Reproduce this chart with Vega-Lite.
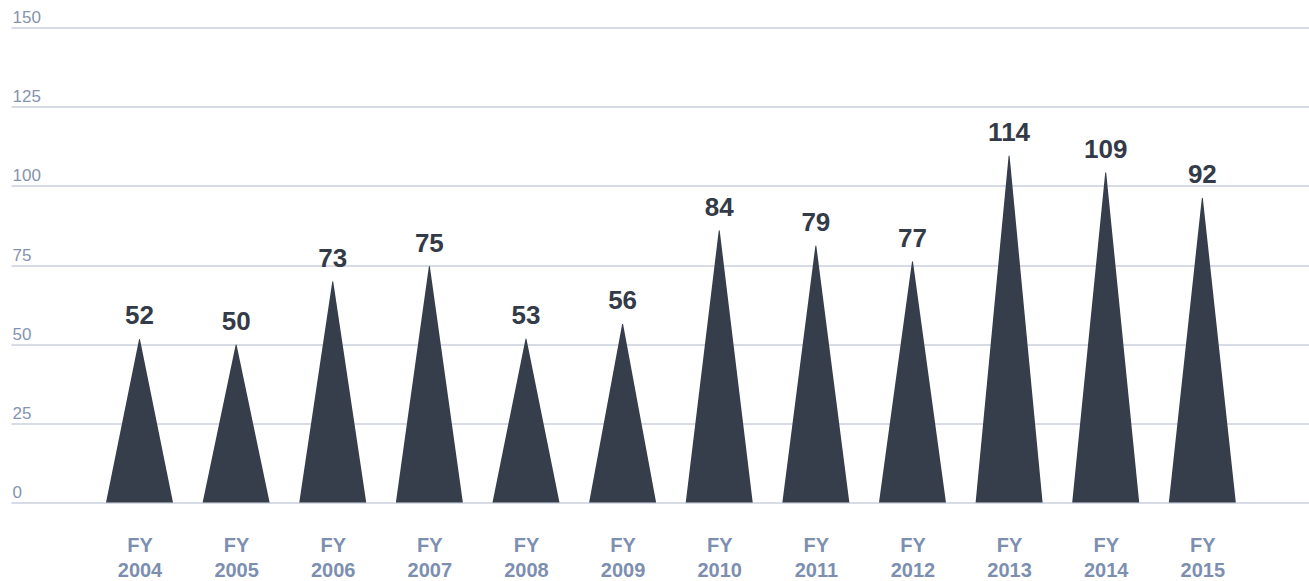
{
  "$schema": "https://vega.github.io/schema/vega-lite/v6.json",
  "width": 1298,
  "height": 475,
  "autosize": {"type": "none"},
  "padding": {"left": 11, "top": 27.5, "right": 0, "bottom": 78.5},
  "background": "white",
  "config": {"view": {"stroke": null}},
  "data": {
    "values": [
      {"year": 2004, "value": 52, "spike": 51.5},
      {"year": 2005, "value": 50, "spike": 49.7},
      {"year": 2006, "value": 73, "spike": 69.7},
      {"year": 2007, "value": 75, "spike": 74.5},
      {"year": 2008, "value": 53, "spike": 51.6},
      {"year": 2009, "value": 56, "spike": 56.3},
      {"year": 2010, "value": 84, "spike": 85.8},
      {"year": 2011, "value": 79, "spike": 81},
      {"year": 2012, "value": 77, "spike": 76},
      {"year": 2013, "value": 114, "spike": 109.4},
      {"year": 2014, "value": 109, "spike": 104.1},
      {"year": 2015, "value": 92, "spike": 96.1}
    ]
  },
  "layer": [
    {
      "transform": [
        {"window": [{"op": "row_number", "as": "pos"}], "groupby": ["year"]},
        {"impute": "spike", "key": "pos", "keyvals": [0], "groupby": ["year"], "value": 0}
      ],
      "mark": {"type": "trail", "color": "#363e4b", "opacity": 1, "clip": true},
      "encoding": {
        "x": {
          "field": "year",
          "type": "quantitative",
          "scale": {"domain": [2002.67, 2016.104], "nice": false, "zero": false},
          "axis": {
            "values": [2004, 2005, 2006, 2007, 2008, 2009, 2010, 2011, 2012, 2013, 2014, 2015],
            "labelExpr": "['FY', '' + datum.value]",
            "domain": false,
            "ticks": false,
            "grid": false,
            "title": null,
            "labelFont": "Liberation Sans",
            "labelFontSize": 20,
            "labelFontWeight": "bold",
            "labelColor": "#7d8fb0",
            "labelPadding": 33,
            "labelBaseline": "top",
            "labelLineHeight": 25,
            "labelFlush": false,
            "labelOverlap": false
          }
        },
        "size": {
          "field": "pos",
          "type": "quantitative",
          "scale": {"domain": [0, 1], "range": [67, 0]},
          "legend": null
        },
        "y": {
          "field": "spike",
          "type": "quantitative",
          "stack": null,
          "scale": {"domain": [0, 150], "nice": false},
          "axis": {
            "values": [0, 25, 50, 75, 100, 125, 150],
            "title": null,
            "domain": false,
            "ticks": false,
            "grid": true,
            "gridColor": "#c9cfdd",
            "gridWidth": 1.5,
            "labelAlign": "left",
            "labelBaseline": "alphabetic",
            "labelPadding": -1,
            "labelOffset": -5,
            "labelFont": "Liberation Sans",
            "labelFontSize": 17,
            "labelColor": "#8593b0",
            "labelFlush": false,
            "labelOverlap": false
          }
        },
        "detail": {"field": "year", "type": "nominal"},
        "order": {"field": "pos", "type": "quantitative"}
      }
    },
    {
      "mark": {
        "type": "text",
        "dy": -15,
        "baseline": "alphabetic",
        "align": "center",
        "font": "Liberation Sans",
        "fontSize": 26,
        "fontWeight": "bold",
        "color": "#343b48"
      },
      "encoding": {
        "x": {"field": "year", "type": "quantitative"},
        "y": {"field": "spike", "type": "quantitative"},
        "text": {"field": "value", "type": "quantitative"}
      }
    }
  ]
}
